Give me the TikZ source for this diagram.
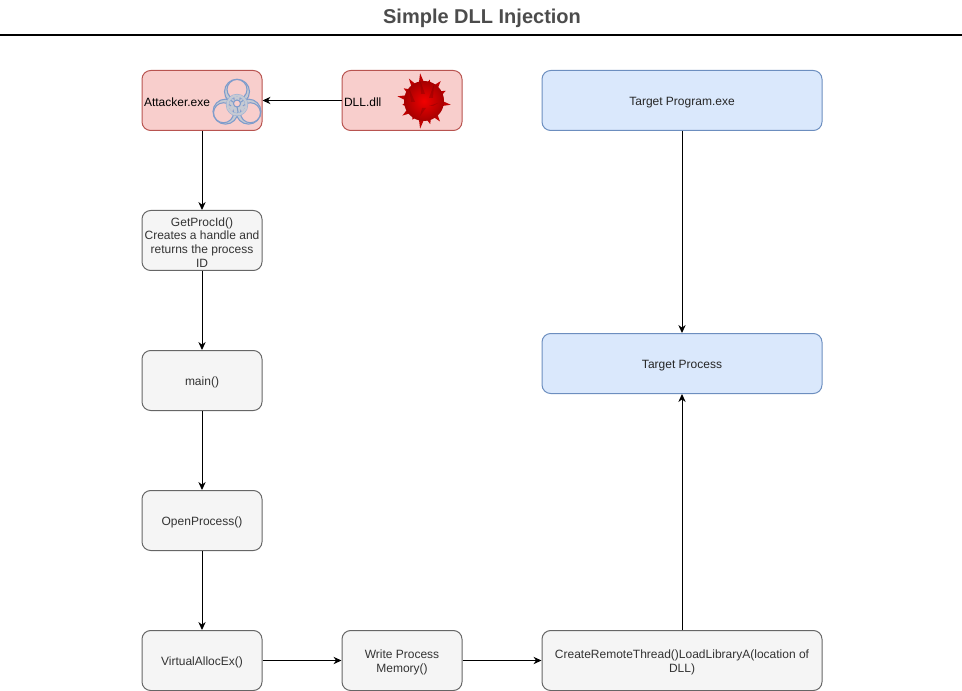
\documentclass[tikz,border=0pt]{standalone}
\usepackage{fontspec}
\setmainfont{Liberation Sans}
\usetikzlibrary{arrows.meta}
\definecolor{redfill}{HTML}{F8CECC}
\definecolor{redline}{HTML}{B85450}
\definecolor{bluefill}{HTML}{DAE8FC}
\definecolor{blueline}{HTML}{6C8EBF}
\definecolor{greyfill}{HTML}{F5F5F5}
\definecolor{greyline}{HTML}{666666}
\definecolor{hazline}{HTML}{7F9CCB}
\definecolor{hazfill}{HTML}{C6CAD3}
\tikzset{
    box/.style={draw,rounded corners=6.5pt,line width=0.75pt,minimum height=45pt,inner sep=1pt,align=flush center,font=\fontsize{9}{10.4}\selectfont,execute at begin node={\rule{0pt}{9.5pt}}},
    smallbox/.style={box,minimum width=90pt,text width=88pt},
    widebox/.style={box,minimum width=210pt,text width=204pt},
    redbox/.style={fill=redfill,draw=redline,text=black,align=flush left},
    bluebox/.style={fill=bluefill,draw=blueline,text=black!85},
    greybox/.style={fill=greyfill,draw=greyline,text=black!80},
    haz/.style={draw=hazline,line width=0.8pt},
    link/.style={-{Stealth[length=6pt,width=5.5pt]},line width=0.75pt},
}
\begin{document}
\begin{tikzpicture}[x=0.75pt,y=-0.75pt]
    \useasboundingbox (0,0) rectangle (962,691);
    %title
    \node[font=\bfseries\fontsize{15}{18}\selectfont,text=black!70] (title) at (482,18) {Simple DLL Injection};
    \coordinate (ruleleft) at (0,35);
    \coordinate (ruleright) at (962,35);
    \draw[line width=1.5pt] (ruleleft) -- (ruleright);
    %attacker side
    \node[smallbox,redbox] (attacker) at (202,100.5) {\hspace{0.5pt}Attacker.exe};
    \node[smallbox,redbox] (dll) at (402,100.5) {\hspace{0.5pt}DLL.dll};
    \node[smallbox,greybox] (getprocid) at (202,240.5) {GetProcId()\\Creates a handle and\\returns the process\\ID};
    \node[smallbox,greybox] (main) at (202,380.5) {main()};
    \node[smallbox,greybox] (openprocess) at (202,520.5) {OpenProcess()};
    \node[smallbox,greybox] (virtualalloc) at (202,660.5) {VirtualAllocEx()};
    \node[smallbox,greybox] (writemem) at (402,660.5) {Write Process\\Memory()};
    %target side
    \node[widebox,bluebox] (targetexe) at (682,100.5) {Target Program.exe};
    \node[widebox,bluebox] (targetproc) at (682,363.5) {Target Process};
    \node[widebox,greybox] (remote) at (682,660.5) {CreateRemoteThread()LoadLibraryA(location of\\DLL)};
    %biohazard icon
    \foreach \ang in {270,30,150} {
        \draw[haz,fill=hazfill] (237,105)++(\ang:13.3) circle (12.5);
    }
    \foreach \ang in {270,30,150} {
        \draw[haz,fill=redfill] (237,105)++(\ang:15.5) circle (10);
    }
    \draw[hazline!80,line width=2.4pt] (237,105) circle (9.5);
    \draw[hazfill,line width=1.6pt] (237,105) circle (9.5);
    \foreach \ang in {270,30,150} {
        \draw[hazfill,line width=3pt] (237,105)++(\ang:2) -- ++(\ang:6);
    }
    \draw[haz,fill=redfill] (237,103.5) circle (3.5);
    %virus icon
    \foreach \ang/\len in {8/27,30/20,52/26,75/24,98/28,122/22,146/26,170/22,190/27,212/24,236/27,262/28,285/22,310/26,335/24,350/20} {
        \fill[red!75!black] ({424+16*cos(\ang-12)},{101+16*sin(\ang-12)}) -- ({424+\len*cos(\ang)},{101+\len*sin(\ang)}) -- ({424+16*cos(\ang+12)},{101+16*sin(\ang+12)}) -- cycle;
    }
    \shade[inner color=red!95!black,outer color=red!65!black] (424,101) circle (20);
    \foreach \sx/\sy/\tx/\ty in {409/88/413/102,420/80/423/94,434/84/431/98,438/103/431/106,420/116/424/108} {
        \fill[red!45!black,opacity=0.35] (\sx,\sy) -- (\tx-2,\ty) -- (\tx+2,\ty) -- cycle;
    }
    %arrows
    \draw[link] (dll) -- (attacker);
    \draw[link] (attacker) -- (getprocid);
    \draw[link] (getprocid) -- (main);
    \draw[link] (main) -- (openprocess);
    \draw[link] (openprocess) -- (virtualalloc);
    \draw[link] (virtualalloc) -- (writemem);
    \draw[link] (writemem) -- (remote);
    \draw[link] (remote) -- (targetproc);
    \draw[link] (targetexe) -- (targetproc);
\end{tikzpicture}
\end{document}
